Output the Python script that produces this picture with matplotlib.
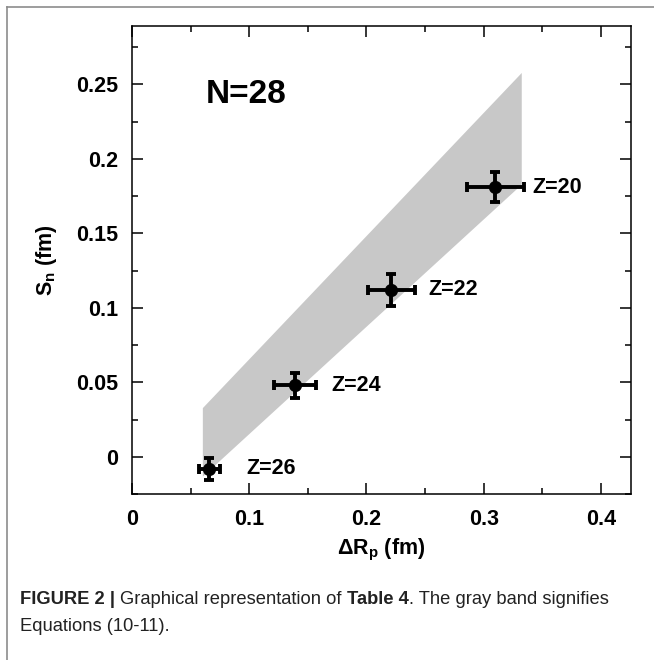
import numpy as np
import matplotlib
matplotlib.use("Agg")
import matplotlib.pyplot as plt
from matplotlib.lines import Line2D

plt.rcParams['font.family'] = ['Liberation Sans', 'DejaVu Sans']
plt.rcParams['mathtext.fontset'] = 'custom'
plt.rcParams['mathtext.rm'] = 'Liberation Sans:bold'
plt.rcParams['mathtext.it'] = 'Liberation Sans:bold'
plt.rcParams['mathtext.bf'] = 'Liberation Sans:bold'

# data
z_labels = ["Z=20", "Z=22", "Z=24", "Z=26"]
delta_rp = [0.310, 0.221, 0.139, 0.066]
delta_rp_err = [0.024, 0.020, 0.018, 0.009]
s_n = [0.181, 0.112, 0.048, -0.008]
s_n_err = [0.010, 0.011, 0.0085, 0.0075]

# gray band (Equations 10-11)
band_x = [0.060, 0.332]
band_lo = [-0.013, 0.183]
band_hi = [0.033, 0.258]

W, H = 654, 660
fig = plt.figure(figsize=(W / 100, H / 100), dpi=100)
ax = fig.add_axes([132 / W, 1 - 494 / H, (631 - 132) / W, (494 - 26) / H])

ax.fill_between(band_x, band_lo, band_hi, color='#c8c8c8', lw=0, zorder=1)
ax.errorbar(delta_rp, s_n, xerr=delta_rp_err, yerr=s_n_err, fmt='o',
            color='black', ms=8.5, elinewidth=2.8, capsize=3.5, capthick=2.8,
            zorder=3)

for lab, x, y in zip(z_labels, delta_rp, s_n):
    ax.annotate(lab, (x, y), xytext=(26.5, 0), textcoords='offset points',
                ha='left', va='center', fontsize=15.5, fontweight='bold')

ax.text(0.063, 0.243, "N=28", fontsize=24, fontweight='bold',
        ha='left', va='center')

ax.set_xlim(0, 0.4256)
ax.set_ylim(-0.0241, 0.2892)
ax.set_xticks([0, 0.1, 0.2, 0.3, 0.4])
ax.set_xticklabels(["0", "0.1", "0.2", "0.3", "0.4"])
ax.set_xticks(np.arange(0.05, 0.42, 0.1), minor=True)
ax.set_yticks([0, 0.05, 0.1, 0.15, 0.2, 0.25])
ax.set_yticklabels(["0", "0.05", "0.1", "0.15", "0.2", "0.25"])
ax.set_yticks(np.arange(-0.025, 0.29, 0.05), minor=True)

ax.tick_params(which='both', direction='in', top=True, right=True,
               width=1.1, labelsize=15.5)
ax.tick_params(which='major', length=8)
ax.tick_params(which='minor', length=4.5)
ax.tick_params(axis='x', pad=11)
ax.tick_params(axis='y', pad=10)
for lab in ax.get_xticklabels() + ax.get_yticklabels():
    lab.set_fontweight('bold')
for sp in ax.spines.values():
    sp.set_linewidth(1.1)

ax.set_xlabel(r"ΔR$_\mathrm{p}$ (fm)", fontsize=15.5, fontweight='bold',
              labelpad=5)
ax.set_ylabel(r"S$_\mathrm{n}$ (fm)", fontsize=15.5, fontweight='bold',
              labelpad=12)

# frame of the figure panel
fig.add_artist(Line2D([7 / W, 7 / W], [0, 1 - 7 / H], transform=fig.transFigure,
                      color='#8c8c8c', lw=1.2))
fig.add_artist(Line2D([7 / W, 1], [1 - 7 / H, 1 - 7 / H], transform=fig.transFigure,
                      color='#8c8c8c', lw=1.2))

# caption, mixed bold and normal pieces placed one after another
renderer = fig.canvas.get_renderer()


def caption_line(pieces, x, y):
    for txt, weight in pieces:
        t = fig.text(x, y, txt, fontsize=13.2, fontweight=weight,
                     color='#222222', ha='left', va='baseline',
                     family=['Liberation Sans', 'DejaVu Sans'])
        bb = t.get_window_extent(renderer=renderer)
        x += bb.width / W


caption_line([("FIGURE 2 | ", 'bold'), ("Graphical representation of ", 'normal'),
              ("Table 4", 'bold'), (". The gray band signifies", 'normal')],
             20 / W, 1 - 604 / H)
caption_line([("Equations (10-11).", 'normal')], 20 / W, 1 - 631 / H)

fig.savefig("out.png", dpi=100)
